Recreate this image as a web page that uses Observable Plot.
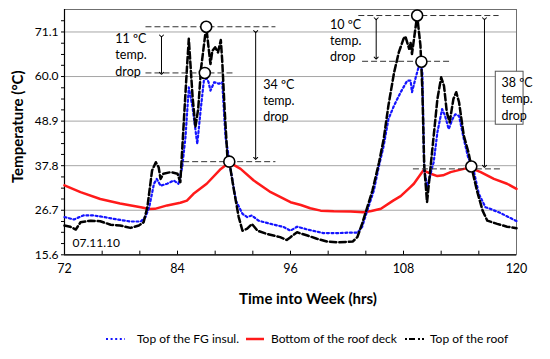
<!DOCTYPE html>
<html><head><meta charset="utf-8">
<script src="https://cdn.jsdelivr.net/npm/d3@7"></script>
<script src="https://cdn.jsdelivr.net/npm/@observablehq/plot@0.6"></script>
<style>
body{margin:0;background:#fff;font-family:Lato,"Open Sans",sans-serif;}
#wrap{position:relative;width:550px;height:359px;overflow:hidden;}
#wrap svg.plot{position:absolute;left:0;top:0;}
.leg{position:absolute;top:331px;font-size:12px;line-height:16px;color:#000;white-space:nowrap;}
.sw{position:absolute;top:331px;}
</style></head><body><div id="wrap"></div>
<script>
// ---- series data ----
const blueTime = [72.0,73.0,74.0,75.1,76.2,77.6,79.0,80.1,80.6,81.0,81.5,81.8,82.2,82.9,83.6,84.1,84.5,84.85,85.2,85.6,86.1,86.45,86.8,87.1,87.3,87.5,87.9,88.4,88.75,89.1,89.45,89.6,90.2,90.9,91.4,91.9,92.6,93.9,95.3,96.0,96.7,97.8,99.5,101.0,102.0,103.1,103.6,104.15,104.85,105.4,105.9,106.4,107.0,107.7,108.4,108.75,108.9,109.3,109.6,109.8,110.0,110.2,110.55,111.0,111.2,111.6,112.1,112.4,112.8,113.2,113.5,113.9,114.4,114.9,115.3,116.0,116.7,117.2,118.3,120.0];
const blueTemp = [25.0,24.4,25.4,25.4,25.0,24.4,23.9,23.9,25.0,27.5,33.3,34.5,32.8,33.3,34.1,33.3,37.4,45.0,57.3,52.3,43.2,51.5,59.0,59.6,58.6,56.5,58.6,58.2,58.6,44.9,39.9,37.4,29.1,25.8,25.0,25.4,24.1,23.3,22.5,21.6,22.6,21.9,21.0,21.0,21.1,21.1,22.5,26.6,31.6,37.8,42.8,49.4,52.8,56.1,59.0,59.0,56.1,59.8,62.3,63.5,61.0,36.6,32.5,37.0,38.6,46.1,51.9,50.3,46.9,49.4,50.6,50.2,44.5,39.5,38.2,30.8,27.45,27.05,26.0,24.0];

const redTime = [72,73.7,75.8,77.9,80.1,81.0,81.6,82.9,84.3,85.0,85.7,87.1,88.6,89.5,90.7,92.1,93.9,96.0,97.1,98.1,99.2,100.6,102.4,103.75,104.6,105.6,106.9,107.7,108.7,109.1,110.1,110.9,111.6,112.2,113.0,114.4,115.1,116.2,117.6,119.0,120.0];
const redTemp = [32.9,31.2,29.5,28.4,27.45,27.0,27.05,27.9,28.55,29.1,30.8,33.3,37.0,38.6,37.0,34.1,31.2,28.7,28.0,27.2,26.6,26.45,26.4,26.2,26.5,27.05,29.1,30.2,32.4,33.3,36.6,35.8,35.2,35.4,36.2,37.0,37.25,36.2,34.5,33.3,32.0];

const blackTime = [72.0,72.6,73.2,73.7,74.8,75.8,76.9,77.9,79.0,79.9,80.4,80.8,81.3,81.7,82.0,82.2,82.5,83.3,84.0,84.3,84.7,85.0,85.2,85.6,85.9,86.2,86.5,87.05,87.5,87.7,88.0,88.3,88.6,88.75,89.0,89.3,89.5,90.0,90.5,90.9,91.4,91.9,92.5,93.5,94.9,95.6,96.0,96.7,97.8,98.8,99.9,101.0,102.6,103.1,103.6,104.15,104.7,105.2,105.4,105.9,106.4,107.0,107.5,108.0,108.2,108.6,108.75,108.9,109.45,109.8,110.0,110.2,110.5,111.05,111.6,112.0,112.3,112.6,112.9,113.3,113.6,113.9,114.4,114.9,115.2,115.8,116.4,116.9,117.95,119.0,120.0];
const blackTemp = [22.9,22.6,21.9,23.7,24.1,23.95,23.1,22.9,22.3,22.9,23.7,27.45,36.6,38.65,37.4,34.5,35.8,36.2,35.8,33.7,50.0,62.0,69.4,55.0,47.4,52.0,62.0,72.4,63.1,66.4,67.3,66.0,69.1,63.9,52.0,39.9,38.8,31.6,25.0,21.6,22.1,23.3,21.6,20.8,20.0,19.3,20.0,21.2,20.4,19.6,18.9,18.7,18.9,20.0,23.3,27.4,31.6,36.6,38.6,44.5,52.8,61.0,66.0,69.4,70.0,66.9,68.5,65.6,75.2,67.7,56.9,37.8,28.7,41.6,54.4,59.8,57.7,51.1,48.6,54.4,56.1,53.6,45.3,41.1,37.6,31.6,26.6,24.1,23.3,22.6,22.2];

// ---- ticks ----
const yTicks = [15.6,26.7,37.8,48.9,60.0,71.1];
const yMinor = [15.6,18.4,21.2,23.9,26.7,29.5,32.2,35.0,37.8,40.6,43.3,46.1,48.9,51.7,54.4,57.2,60.0,62.8,65.5,68.3,71.1,73.9];
const gridTemps = [26.7,37.8,48.9,60.0,71.1];
const xTicks = [72,84,96,108,120];
const xMinor = [76,80,84,88,92,96,100,104,108,112,116];

// ---- annotations ----
const circleTime = [87.05,86.9,89.5,109.45,109.9,115.2];
const circleTemp = [72.4,60.9,38.8,75.2,63.7,37.6];
const refStart = [80.6,80.6,84.6,103.2,103.6,109.0];
const refEnd = [94.4,89.9,94.4,118.1,113.0,118.3];
const refTemp = [72.4,60.9,38.8,75.2,63.8,37.0];
const arrowTime = [82.3,92.3,105.1,116.6];
const arrowTop = [70.1,71.2,74.4,74.4];
const arrowBottom = [60.8,39.6,64.6,37.65];
const labelText = ["11 ºC\ntemp.\ndrop","34 ºC\ntemp.\ndrop","10 ºC\ntemp.\ndrop","38 ºC\ntemp.\ndrop"];
const labelTime = [77.4,93.1,100.2,118.4];
const labelTemp = [65.6,54.2,69.2,54.6];
const seriesNames = ["Top of the FG insul.","Bottom of the roof deck","Top of the roof"];

const blue = blueTime.map((t,i)=>({t, T: blueTemp[i]}));
const red = redTime.map((t,i)=>({t, T: redTemp[i]}));
const black = blackTime.map((t,i)=>({t, T: blackTemp[i]}));
const circles = circleTime.map((t,i)=>({t, T: circleTemp[i]}));
const refs = refStart.map((s,i)=>({s, e: refEnd[i], T: refTemp[i]}));
const arrows = arrowTime.map((t,i)=>({t, a: arrowTop[i], b: arrowBottom[i]}));
const labels = labelText.map((txt,i)=>({txt, t: labelTime[i], T: labelTemp[i]}));

const chart = Plot.plot({
  width: 550, height: 315,
  marginTop: 9, marginBottom: 60.7, marginLeft: 64, marginRight: 34,
  x: {domain: [72,120], axis: null},
  y: {domain: [15.6,76.7], axis: null},
  style: {fontFamily: "Lato, sans-serif", fontSize: "12px", color: "#000", background: "#fff", overflow: "visible"},
  marks: [
    Plot.ruleY(gridTemps, {stroke: "#a6a6a6", strokeWidth: 1, strokeOpacity: 1}),
    Plot.frame({stroke: "#6f6f6f", strokeWidth: 1}),
    Plot.ruleX([72], {stroke: "#000", strokeWidth: 1.2}),
    Plot.ruleY([15.6], {stroke: "#000", strokeWidth: 1.2}),
    Plot.axisY({ticks: yMinor, tickSize: 3, tickFormat: () => "", label: null, stroke: "#000"}),
    Plot.axisY({ticks: yTicks, tickSize: 0, tickPadding: 6, tickFormat: d => d.toFixed(1), label: null, fontSize: 12}),
    Plot.ruleX(xMinor, {y1: 15.6, y2: 16.5, stroke: "#000"}),
    Plot.axisX({ticks: xTicks, tickSize: 0, tickPadding: 9, label: null, fontSize: 12.5}),
    Plot.text(["Temperature (°C)"], {x: 72, y: 47.5, dx: -46.5, rotate: -90, text: d => d, fontWeight: "bold", fontSize: 15}),
    Plot.text(["Time into Week (hrs)"], {x: 97.86, y: 15.6, dy: 44, text: d => d, fontWeight: "bold", fontSize: 15}),
    Plot.text(["07.11.10"], {x: 72.85, y: 18.4, text: d => d, textAnchor: "start", fontSize: 12}),
    // series
    Plot.line(red, {x: "t", y: "T", stroke: "#ff1a1a", strokeWidth: 2.5}),
    Plot.line(blue, {x: "t", y: "T", stroke: "#1414ff", strokeWidth: 2.2, strokeDasharray: "2,2.6"}),
    Plot.line(black, {x: "t", y: "T", stroke: "#000", strokeWidth: 2.5, strokeDasharray: "6.5,3"}),
    // annotations
    Plot.link(refs, {x1: "s", x2: "e", y1: "T", y2: "T", stroke: "#333", strokeWidth: 1, strokeDasharray: "6,3"}),
    Plot.link(arrows, {x1: "t", x2: "t", y1: "a", y2: "b", stroke: "#000", strokeWidth: 1, markerStart: "arrow", markerEnd: "arrow"}),
    Plot.rect([{a: 117.8, b: 120.75, c: 48.0, d: 61.2}], {x1: "a", x2: "b", y1: "c", y2: "d", fill: "#fff", stroke: "#555", strokeWidth: 1}),
    Plot.text(labels, {x: "t", y: "T", text: "txt", textAnchor: "start", lineHeight: 1.3, fontSize: 12.5}),
    Plot.dot(circles, {x: "t", y: "T", r: 5.5, fill: "#fff", stroke: "#000", strokeWidth: 1.6})
  ]
});
chart.classList.add("plot");
const wrap = document.getElementById("wrap");
wrap.appendChild(chart);

// legend
function sw(left, html){ const d=document.createElement("div"); d.className="sw"; d.style.left=left+"px"; d.innerHTML=html; wrap.appendChild(d); }
function lab(left, text){ const d=document.createElement("div"); d.className="leg"; d.style.left=left+"px"; d.textContent=text; wrap.appendChild(d); }
sw(105, '<svg width="22" height="16"><line x1="1" y1="8" x2="20" y2="8" stroke="#1414ff" stroke-width="2" stroke-dasharray="2,2.6"/></svg>');
lab(137, seriesNames[0]);
sw(245, '<svg width="22" height="16"><line x1="1" y1="8" x2="19" y2="8" stroke="#ff1a1a" stroke-width="2.5"/></svg>');
lab(271, seriesNames[1]);
sw(404, '<svg width="22" height="16"><line x1="1" y1="8" x2="20" y2="8" stroke="#000" stroke-width="2" stroke-dasharray="2,2,6,3"/></svg>');
lab(430, seriesNames[2]);
</script></body></html>
